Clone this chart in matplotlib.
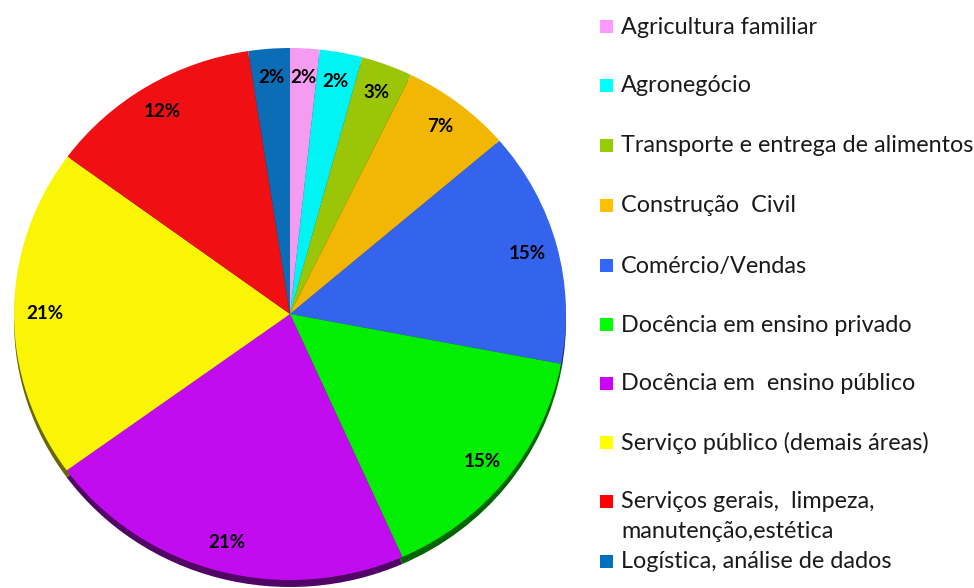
import matplotlib
matplotlib.use("Agg")
import matplotlib.pyplot as plt
from matplotlib import colors as mcolors
from matplotlib.patches import Rectangle

plt.rcParams["font.family"] = ["Lato", "DejaVu Sans"]

categories = [
    "Agricultura familiar",
    "Agronegócio",
    "Transporte e entrega de alimentos",
    "Construção  Civil",
    "Comércio/Vendas",
    "Docência em ensino privado",
    "Docência em  ensino público",
    "Serviço público (demais áreas)",
    "Serviços gerais,  limpeza,\nmanutenção,estética",
    "Logística, análise de dados",
]
# slice sizes (percent of the circle)
shares = [1.72, 2.50, 3.00, 6.50, 14.28, 15.33, 21.67, 20.08, 12.50, 2.42]
pct_labels = ["2%", "2%", "3%", "7%", "15%", "15%", "21%", "21%", "12%", "2%"]
slice_colors = ["#F59CF2", "#00F4F4", "#9BC607", "#F2B705", "#3463EE",
                "#02EE02", "#C20CF0", "#FAF505", "#F00F12", "#0B6DB6"]
legend_colors = ["#FF99FF", "#00FFFF", "#99CC00", "#FFC000", "#3366FF",
                 "#00FF00", "#CC00FF", "#FFFF00", "#FF0000", "#0070C0"]

W, H = 974, 588
fig = plt.figure(figsize=(W / 100, H / 100), dpi=100)

# pie axes sized to the drawn ellipse
cx, cy, rx, ry = 290, 314, 276, 266
ax = fig.add_axes([(cx - rx) / W, (H - cy - ry) / H, 2 * rx / W, 2 * ry / H])

# darker copy shifted down gives the 3D side band
dark = [tuple(c * 0.42 for c in mcolors.to_rgb(col)) for col in slice_colors]
shift = 7 / ry
ax.pie(shares, colors=dark, startangle=90, counterclock=False,
       center=(0, -shift), radius=1.0,
       wedgeprops=dict(linewidth=0, zorder=1))

it = iter(pct_labels)
ax.pie(shares, colors=slice_colors, startangle=90, counterclock=False,
       radius=1.0, autopct=lambda p: next(it), pctdistance=0.89,
       wedgeprops=dict(linewidth=0, zorder=2),
       textprops=dict(fontsize=13.5, fontweight="bold", color="black"))
ax.set_aspect("auto")
ax.set_xlim(-1, 1)
ax.set_ylim(-1, 1)
ax.axis("off")

# manual legend on the right (pixel coordinates)
lax = fig.add_axes([0, 0, 1, 1])
lax.set_xlim(0, W)
lax.set_ylim(H, 0)
lax.axis("off")
row_y = [27, 86, 146, 206, 266, 325, 384, 443, 502, 562]
for col, lab, y in zip(legend_colors, categories, row_y):
    lax.add_patch(Rectangle((600, y - 7), 13, 13, facecolor=col, edgecolor="none"))
    for i, line in enumerate(lab.split("\n")):
        lax.text(621, y + i * 30, line, fontsize=16.8, va="center", ha="left",
                 color="#1a1a1a")

fig.savefig("out.png", dpi=100)
